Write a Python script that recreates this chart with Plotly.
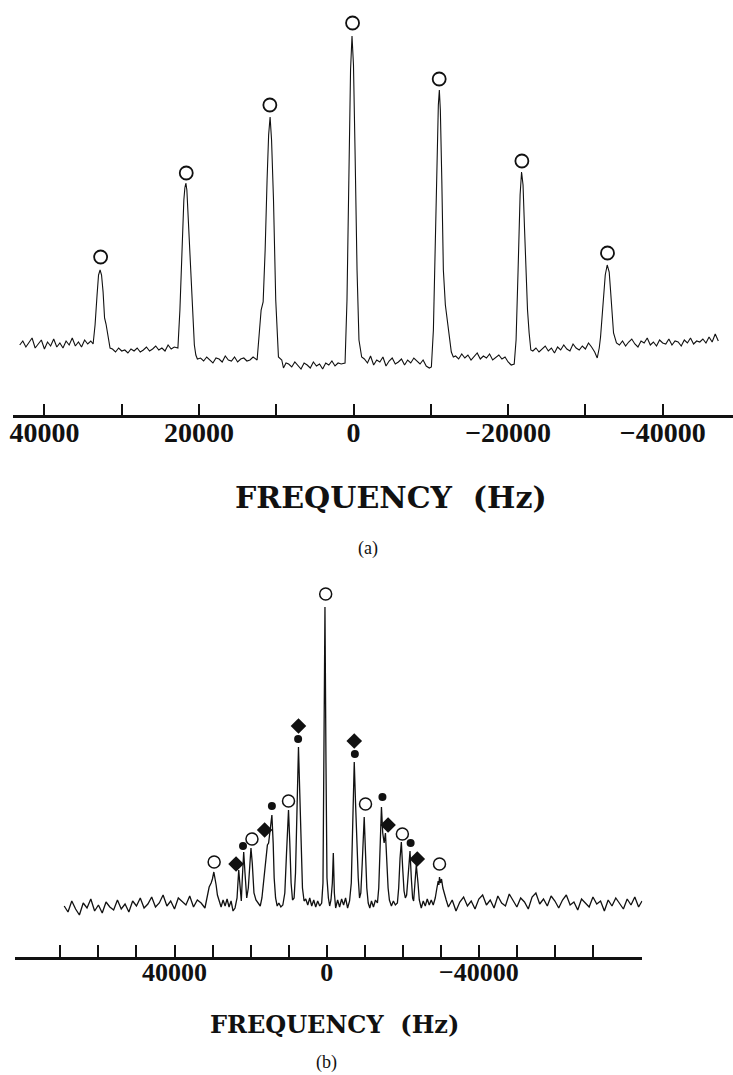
import plotly.graph_objects as go

# ---------------- Panel (a) data: frequency (Hz) / intensity (a.u.) ----------------
a_seg_freq = [
    # baseline left
    43200, 42800, 42400, 42000, 41600, 41200, 40800, 40400, 40000, 39600, 39200, 38800,
    38400, 38000, 37600, 37200, 36800, 36400, 36000, 35600, 35200, 34800, 34400, 34000,
    # peak 1
    33700, 33450, 33190, 33000, 32800, 32610, 32410, 32220, 32030, 31770, 31510,
    # baseline
    31200, 30800, 30400, 30000, 29600, 29200, 28800, 28400, 28000, 27600, 27200, 26800,
    26400, 26000, 25600, 25200, 24800, 24400, 24000, 23600, 23200,
    # peak 2
    22730, 22470, 22220, 21960, 21830, 21700, 21570, 21310, 21060, 20860, 20600, 20410, 20210,
    # baseline
    19800, 19400, 19000, 18600, 18200, 17800, 17400, 17000, 16600, 16200, 15800, 15400,
    15000, 14600, 14200, 13800, 13400, 13000,
    # peak 3
    12480, 12220, 11960, 11700, 11440, 11190, 10990, 10800, 10610, 10360, 10070, 9720, 9290, 9070, 8740,
    # baseline
    8400, 8000, 7600, 7200, 6800, 6400, 6000, 5600, 5200, 4800, 4400, 4000, 3600, 3200, 2800, 2400, 2000, 1600,
    # peak 4 (centre band)
    1100, 850, 590, 390, 200, 10, -190, -450, -700, -1050,
    # baseline
    -1400, -1800, -2200, -2600, -3000, -3400, -3800, -4200, -4600, -5000, -5400, -5800,
    -6200, -6600, -7000, -7400, -7800, -8200, -8600, -9000, -9400, -9800,
    # peak 5
    -10070, -10330, -10580, -10840, -10970, -11100, -11230, -11420, -11620, -11880, -12130, -12390, -12650, -12910,
    # baseline
    -13200, -13600, -14000, -14400, -14800, -15200, -15600, -16000, -16400, -16800, -17200, -17600,
    -18000, -18400, -18800, -19200, -19600, -20000, -20400,
    # peak 6
    -20790, -21030, -21290, -21550, -21740, -21930, -22130, -22290, -22510, -22720, -22940,
    # baseline
    -23200, -23600, -24000, -24400, -24800, -25200, -25600, -26000, -26400, -26800, -27200, -27600,
    -28000, -28400, -28800, -29200, -29600, -30000, -30400, -30800, -31200,
    # peak 7
    -31530, -31790, -31960, -32310, -32570, -32820, -33080, -33250, -33470, -33640, -34020,
    # baseline right
    -34400, -34800, -35200, -35600, -36000, -36400, -36800, -37200, -37600, -38000, -38400, -38800,
    -39200, -39600, -40000, -40400, -40800, -41200, -41600, -42000, -42400, -42800, -43200, -43600,
    -44000, -44400, -44800, -45200, -45600, -46000, -46400, -46800, -47200,
]
a_intensity = [
    15, 19, 13, 17, 22, 12, 16, 20, 11, 18, 14, 21, 13, 17, 12, 19, 15, 22, 14, 18, 13, 20, 16, 19,
    16, 35, 65, 85, 90, 85, 68, 42, 36, 22, 12,
    11, 8, 12, 9, 10, 7, 11, 9, 12, 8, 10, 13, 9, 11, 14, 10, 12, 9, 15, 11, 13,
    12, 50, 115, 160, 172, 177, 170, 127, 80, 43, 15, 5, 1,
    2, -1, 3, 0, -3, 2, 1, -2, 4, 0, -1, 3, -2, 1, 2, -1, 0, 3,
    0, 25, 50, 58, 110, 180, 225, 243, 220, 160, 60, 3, 0, -8, -3,
    -4, -7, -2, -6, -9, -3, -5, -8, -2, -6, -4, -9, -3, -5, -1, -6, -3, -4,
    -3, 60, 200, 290, 324, 295, 210, 90, 20, 3,
    1, -3, 4, -5, 0, -2, 3, -6, -1, 2, -4, -2, 1, -5, 0, -3, 2, -1, -4, 0, -6, -8,
    -7, 30, 120, 220, 255, 270, 250, 180, 90, 55, 40, 27, 8, 3,
    4, 1, 6, 2, 5, 0, 3, 7, 1, 4, 2, 6, 0, 3, 5, 1, 3, -2, -5,
    -4, 20, 90, 165, 188, 175, 130, 93, 50, 27, 10,
    9, 12, 8, 11, 14, 9, 12, 7, 13, 10, 15, 11, 9, 16, 12, 10, 14, 11, 17, 13, 8,
    2, 12, 23, 60, 85, 95, 88, 70, 45, 27, 17,
    15, 19, 14, 18, 21, 16, 13, 19, 17, 22, 15, 18, 14, 20, 17, 16, 21, 15, 19, 18, 14, 20, 17, 22,
    16, 19, 18, 21, 17, 23, 18, 26, 19,
]
a_circle_freq = [32730, 21650, 10830, 130, -11080, -21780, -32860]
a_circle_int = [103, 187, 255, 337, 281, 199, 107]

a_tickvals = [40000, 30000, 20000, 10000, 0, -10000, -20000, -30000, -40000]
a_ticktext = ["40000", "", "20000", "", "0", "", "\u221220000", "", "\u221240000"]

# ---------------- Panel (b) data ----------------
b_freq = [
    69000, 68000, 67000, 66000, 65000, 64000, 63000, 62000, 61000, 60000, 59000, 58000,
    57000, 56000, 55000, 54000, 53000, 52000, 51000, 50000, 49000, 48000, 47000, 46000,
    45000, 44000, 43000, 42000, 41000, 40000, 39000, 38000, 37000, 36000, 35000, 34000,
    33000, 32000,
    31680, 31230, 30890, 30370, 30030, 29660, 29400, 29060, 28720, 28270, 27750, 27230,
    26700, 26180, 25660, 25130, 24610, 24090, 23560, 23120, 22700, 22440, 22170, 21810,
    21470, 21020, 20600, 20240, 19900, 19560, 19110, 18590, 18060, 17460, 17020, 16490,
    15970, 15580, 15260, 14840, 14400, 14060, 13800, 13430, 13010, 12570, 12040, 11520,
    11000, 10550, 10030, 9690, 9350, 8980, 8560, 8190, 7850, 7410, 7070, 6730,
    6360, 5940, 5500, 4970, 4450, 3930, 3400, 2880, 2360, 1830, 1310, 970,
    710, 450, 180, -80, -450, -790, -1130, -1490, -1750, -2020, -2360, -2880,
    -3400, -3930, -4450, -4970, -5500, -6020, -6470, -6890, -7250, -7590, -7930, -8300,
    -8640, -8980, -9350, -9870, -10210, -10550, -10920, -11340, -11780, -12300, -12830, -13350,
    -13690, -14060, -14400, -14740, -15110, -15450, -15790, -16150, -16490, -17020, -17540, -18060,
    -18590, -18930, -19290, -19630, -19980, -20340, -20680, -21020, -21470, -21910, -22250, -22590,
    -22860, -23120, -23560, -24010, -24350, -24870, -25390, -25920, -26440, -26970, -27490, -28010,
    -28540, -28980, -29320, -29500, -29660, -29920, -30190, -30550, -30970, -31420,
    -32000, -33000, -34000, -35000, -36000, -37000, -38000, -39000, -40000, -41000, -42000, -43000,
    -44000, -45000, -46000, -47000, -48000, -49000, -50000, -51000, -52000, -53000, -54000, -55000,
    -56000, -57000, -58000, -59000, -60000, -61000, -62000, -63000, -64000, -65000, -66000, -67000,
    -68000, -69000, -70000, -71000, -72000, -73000, -74000, -75000, -76000, -77000, -78000, -79000,
    -80000, -81000, -82000, -82900,
]
b_intensity = [
    -3, -9, 2, -6, -12, 0, -5, 4, -8, -2, -10, 1, -4, -7, 3, -6, -1, -9, 2, -3, 5, -5, -1, 6,
    -4, 0, 8, -3, 2, -6, 5, 1, -2, 7, -4, 3, 0, -5,
    2, 8, 16, 20, 24, 31, 26, 18, 8, 2, -4, 3,
    -3, 4, -4, 2, -8, -5, 5, 33, 15, 2, 25, 51,
    30, 5, 15, 40, 55, 40, 10, 3, 0, -3, 5, 25,
    45, 58, 60, 75, 88, 60, 25, 5, -3, 0, -4, -2,
    10, 50, 93, 60, 20, 3, 5, 30, 90, 156, 110, 50,
    15, 2, 4, -2, 5, -3, 3, -4, 2, -3, 0, 20,
    150, 296, 140, 25, 5, -3, 3, 20, 50, 10, -5, 3,
    -4, 4, -2, 5, -5, 2, 20, 90, 141, 100, 55, 25,
    5, 10, 40, 86, 50, 15, 0, -5, 2, -4, 3, 0,
    15, 60, 96, 70, 60, 70, 40, 15, 3, -3, 2, -2,
    0, 15, 45, 61, 35, 12, 5, 8, 30, 52, 25, 5,
    2, 15, 38, 20, 3, -5, 2, -3, 4, -2, 3, -2,
    5, 15, 22, 18, 26, 20, 24, 15, 8, 3,
    -4, 3, -8, 1, 6, -3, 2, -6, 4, 8, -2, 3, -5, 7, 0, -3, 9, 2, -4, 5, 1, -6, 6, 10,
    -1, 4, -3, 7, 2, -5, 3, 8, -2, 1, -7, 4, 0, -4, 6, -1, 2, -8, 3, -3, 5, 0, -6, 4,
    -2, 6, -4, 2,
]
b_circle_freq = [29580, 19640, 10030, 260, -10210, -19900, -29660]
b_circle_int = [41, 64, 102, 309, 99, 69, 39]
b_dot_freq = [21990, 14400, 7510, -7410, -14660, -22070]
b_dot_int = [57, 97, 164, 149, 106, 60]
b_diamond_freq = [23820, 16310, 7410, -7250, -16150, -23820]
b_diamond_int = [39, 73, 177, 162, 78, 44]

b_tickvals = [70000, 60000, 50000, 40000, 30000, 20000, 10000, 0,
              -10000, -20000, -30000, -40000, -50000, -60000, -70000]
b_ticktext = ["", "", "", "40000", "", "", "", "0", "", "", "", "\u221240000", "", "", ""]

assert len(a_seg_freq) == len(a_intensity), (len(a_seg_freq), len(a_intensity))
assert len(b_freq) == len(b_intensity), (len(b_freq), len(b_intensity))

W, H = 733, 1075
BLACK = "#111111"

fig = go.Figure()

fig.add_trace(go.Scatter(x=a_seg_freq, y=a_intensity, mode="lines",
                         line=dict(color=BLACK, width=1.1), xaxis="x", yaxis="y"))
fig.add_trace(go.Scatter(x=a_circle_freq, y=a_circle_int, mode="markers",
                         marker=dict(symbol="circle-open", size=13, color=BLACK,
                                     line=dict(width=1.8, color=BLACK)),
                         xaxis="x", yaxis="y"))

fig.add_trace(go.Scatter(x=b_freq, y=b_intensity, mode="lines",
                         line=dict(color=BLACK, width=1.3), xaxis="x2", yaxis="y2"))
fig.add_trace(go.Scatter(x=b_circle_freq, y=b_circle_int, mode="markers",
                         marker=dict(symbol="circle-open", size=12, color=BLACK,
                                     line=dict(width=1.5, color=BLACK)),
                         xaxis="x2", yaxis="y2"))
fig.add_trace(go.Scatter(x=b_dot_freq, y=b_dot_int, mode="markers",
                         marker=dict(symbol="circle", size=8, color=BLACK),
                         xaxis="x2", yaxis="y2"))
fig.add_trace(go.Scatter(x=b_diamond_freq, y=b_diamond_int, mode="markers",
                         marker=dict(symbol="diamond", size=12, color=BLACK),
                         xaxis="x2", yaxis="y2"))

tick_font_a = dict(family="Liberation Serif", size=28, color=BLACK, weight="bold")
tick_font_b = dict(family="Liberation Serif", size=26, color=BLACK, weight="bold")

fig.update_layout(
    width=W, height=H,
    margin=dict(l=0, r=0, t=0, b=0),
    paper_bgcolor="white", plot_bgcolor="white",
    showlegend=False,
    xaxis=dict(domain=[10 / W, 1.0], range=[44073, -49099],
               anchor="y", showgrid=False, zeroline=False,
               showline=True, linecolor=BLACK, linewidth=2.5,
               ticks="inside", ticklen=11, tickwidth=2, tickcolor=BLACK,
               tickmode="array", tickvals=a_tickvals, ticktext=a_ticktext,
               tickfont=tick_font_a, ticklabelstandoff=-9),
    yaxis=dict(domain=[1 - 415 / H, 1.0], range=[-55, 360], anchor="x",
               visible=False),
    xaxis2=dict(domain=[12 / W, 642 / W], range=[81943, -82991],
                anchor="y2", showgrid=False, zeroline=False,
                showline=True, linecolor=BLACK, linewidth=2.5,
                ticks="inside", ticklen=12, tickwidth=2, tickcolor=BLACK,
                tickmode="array", tickvals=b_tickvals, ticktext=b_ticktext,
                tickfont=tick_font_b, ticklabelstandoff=-10),
    yaxis2=dict(domain=[1 - 957 / H, 1 - 560 / H], range=[-54, 343], anchor="x2",
                visible=False),
)

def ann(text, px, py, size, family, bold=True):
    fig.add_annotation(text=text, x=px / W, y=1 - py / H, xref="paper", yref="paper",
                       xanchor="center", yanchor="middle", showarrow=False,
                       font=dict(family=family, size=size, color=BLACK,
                                 weight="bold" if bold else "normal"))

ann("FREQUENCY  (Hz)", 390, 497, 30, "DejaVu Serif")
ann("(a)", 366, 548, 18, "Liberation Serif", bold=False)
ann("FREQUENCY  (Hz)", 333, 1024, 24, "DejaVu Serif")
ann("(b)", 325, 1062, 18, "Liberation Serif", bold=False)

fig.write_html("out.html", config={"displayModeBar": False})
